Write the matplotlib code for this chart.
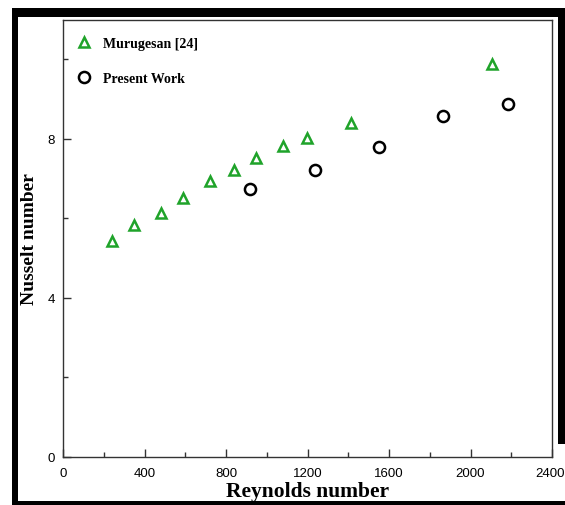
import matplotlib.pyplot as plt
from matplotlib.patches import Rectangle
from matplotlib.ticker import MultipleLocator
from matplotlib.transforms import ScaledTranslation

# Murugesan [24] reference data
re_murugesan = [238, 348, 479, 586, 720, 838, 948, 1078, 1199, 1415, 2105]
nu_murugesan = [5.44, 5.84, 6.13, 6.52, 6.95, 7.23, 7.52, 7.82, 8.02, 8.40, 9.89]

# present work
re_present = [918, 1235, 1550, 1865, 2185]
nu_present = [6.74, 7.23, 7.81, 8.57, 8.88]

W, H = 565, 506
fig = plt.figure(figsize=(W / 100, H / 100), dpi=100)
ax = fig.add_axes([63.3 / W, 1 - 458 / H, (552 - 63.3) / W, (458 - 20.7) / H])

serif = ['Liberation Serif', 'DejaVu Serif']
sans = ['Liberation Sans', 'DejaVu Sans']

ax.plot(re_murugesan, nu_murugesan, linestyle='none', marker='^', ms=7.5,
        mfc='none', mec='#1fa32a', mew=1.8, label='Murugesan [24]')
ax.plot(re_present, nu_present, linestyle='none', marker='o', ms=8,
        mfc='none', mec='black', mew=1.8, label='Present Work')

ax.set_xlim(0, 2400)
ax.set_ylim(0, 11)
ax.xaxis.set_major_locator(MultipleLocator(400))
ax.xaxis.set_minor_locator(MultipleLocator(200))
ax.yaxis.set_major_locator(MultipleLocator(4))
ax.yaxis.set_minor_locator(MultipleLocator(2))
ax.tick_params(which='both', direction='in', color='#333333', width=1)
ax.tick_params(which='major', length=6, pad=6, labelsize=9.5)
ax.tick_params(axis='x', which='major', pad=7)
ax.tick_params(which='minor', length=3.5)
for lab in ax.get_xticklabels() + ax.get_yticklabels():
    lab.set_family(sans)
for sp in ax.spines.values():
    sp.set_color('#333333')
    sp.set_linewidth(1)

ax.set_xlabel('Reynolds number', family=serif, fontweight='bold', fontsize=15.5, labelpad=2)
ax.set_ylabel('Nusselt number', family=serif, fontweight='bold', fontsize=14, labelpad=7)

ax.legend(loc='upper left', bbox_to_anchor=(0.028, 0.960), frameon=False,
          prop={'family': serif, 'weight': 'bold', 'size': 10},
          handlelength=1.0, handletextpad=0.9, labelspacing=1.55,
          borderaxespad=0, borderpad=0)

# heavy black frame round the figure; the right bar stops above the x labels
def px_rect(x0, y0, x1, y1):
    return Rectangle((x0 / W, 1 - y1 / H), (x1 - x0) / W, (y1 - y0) / H,
                     transform=fig.transFigure, facecolor='black',
                     edgecolor='none', zorder=-1)

for r in [px_rect(12, 9, 18, H), px_rect(12, 9, W, 18),
          px_rect(558, 9, W, 445), px_rect(12, 502, W, H)]:
    fig.add_artist(r)

# pull the last x label in a little so it stays on the canvas
fig.canvas.draw()
for tick in ax.xaxis.get_major_ticks():
    if tick.label1.get_text() == '2400':
        lab = tick.label1
        lab.set_transform(lab.get_transform() + ScaledTranslation(-2 / 100, 0, fig.dpi_scale_trans))

fig.savefig('out.png', dpi=100)
